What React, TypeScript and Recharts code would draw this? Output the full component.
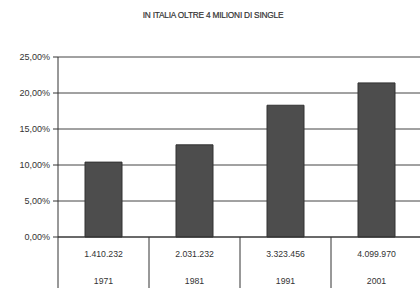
import React from 'react';
import { BarChart, Bar, XAxis, YAxis, CartesianGrid } from 'recharts';

const years = ['1971', '1981', '1991', '2001'];
const singles = ['1.410.232', '2.031.232', '3.323.456', '4.099.970'];
const shares = [0.104, 0.128, 0.183, 0.214];
const yTicks = [0, 0.05, 0.1, 0.15, 0.2, 0.25];
const title = 'IN ITALIA OLTRE 4 MILIONI DI SINGLE';

const data = years.map((y, i) => ({ year: y, singles: singles[i], share: shares[i] }));

const W = 430;
const H = 288;
const M = { top: 57, right: 8, left: 0, bottom: 0 };
const YW = 58;
const XH = 51;
const bandW = (W - M.left - M.right - YW) / years.length;
const FONT = '"Liberation Sans", Arial, sans-serif';

const fmt = (v: number) => (v * 100).toFixed(2).replace('.', ',') + '%';

const XTick = (props: any) => {
  const { x, y, payload, index } = props;
  const i = payload.index ?? index;
  const d = data[i];
  return (
    <g>
      {i === 0 && (
        <line x1={x - bandW / 2} y1={y} x2={x - bandW / 2} y2={H} stroke="#333" strokeWidth={1} />
      )}
      {i < years.length - 1 && (
        <line x1={x + bandW / 2} y1={y} x2={x + bandW / 2} y2={H} stroke="#333" strokeWidth={1} />
      )}
      <text x={x} y={y + 20} textAnchor="middle" fontSize={8.7} fill="#333" fontFamily={FONT}>
        {d ? d.singles : ''}
      </text>
      <text x={x} y={y + 47} textAnchor="middle" fontSize={8.7} fill="#333" fontFamily={FONT}>
        {payload.value}
      </text>
    </g>
  );
};

export default function App() {
  return (
    <div style={{ position: 'absolute', left: 0, top: 0, width: 420, height: H, overflow: 'hidden', background: '#fff' }}>
      <div
        style={{
          position: 'absolute',
          top: 10,
          left: 0,
          width: 426,
          textAlign: 'center',
          fontFamily: FONT,
          fontSize: 8.3,
          color: '#333',
          letterSpacing: -0.2,
          WebkitTextStroke: '0.2px #333',
        }}
      >
        {title}
      </div>
      <BarChart width={W} height={H} data={data} margin={M} barCategoryGap={27}>
        <CartesianGrid vertical={false} stroke="#444" strokeWidth={1} horizontalValues={yTicks} />
        <XAxis
          dataKey="year"
          height={XH}
          axisLine={{ stroke: '#333' }}
          tickLine={false}
          tickSize={0}
          tickMargin={0}
          tick={<XTick />}
          interval={0}
        />
        <YAxis
          width={YW}
          domain={[0, 0.25]}
          ticks={yTicks}
          tickFormatter={fmt}
          axisLine={{ stroke: '#333' }}
          tickLine={{ stroke: '#333' }}
          tickSize={5}
          tickMargin={3}
          tick={{ fontSize: 9, fill: '#333', fontFamily: FONT }}
          interval={0}
        />
        <Bar dataKey="share" fill="#4d4d4d" stroke="#333" strokeWidth={1} isAnimationActive={false} />
      </BarChart>
    </div>
  );
}
